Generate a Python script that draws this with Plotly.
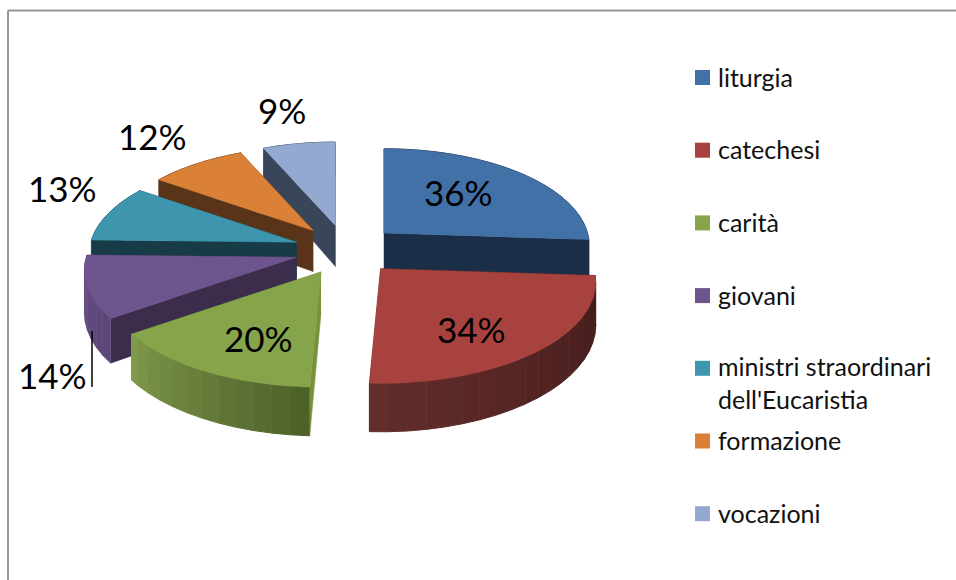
import numpy as np
import plotly.graph_objects as go

categories = ['liturgia', 'catechesi', 'carità', 'giovani',
              "ministri straordinari<br>dell'Eucaristia", 'formazione', 'vocazioni']
values = [36, 34, 20, 14, 13, 12, 9]

top_colors = ['#4271A8', '#A8423F', '#86A44A', '#6E548D', '#3D96AE', '#DA8137', '#93A9CF']
face_colors = ['#1A2F47', '#451D1B', '#76933C', '#3D2D4D', '#173B47', '#5A3418', '#394558']
rim_start = ['#1A2F47', '#431C1A', '#4E6129', '#5C4679', '#173B47', '#5A3418', '#394558']
rim_end = ['#1A2F47', '#622D2B', '#80994A', '#6B5188', '#173B47', '#5A3418', '#394558']

# back slices get painted first
draw_order = [6, 5, 0, 4, 3, 2, 1]

# label centres, in pixels
label_x = [458, 471, 258, 52, 62, 152, 282]
label_y = [192, 329, 338, 375, 188, 136, 110]

CX, CY = 346, 250       # pie centre
EX, EY = 52, 25         # explosion
RX, RY = 208, 97        # wedge radii
PERSP = 0.13            # front of the pie is closer to the viewer
DEPTH = 41


def rgb(c):
    return np.array([int(c[i:i + 2], 16) for i in (1, 3, 5)])


def project(theta, ax, ay):
    u, v = np.sin(theta), -np.cos(theta)
    # slices pulled towards the viewer come out a little larger
    s = 1 / (1 - PERSP * (v + (ay - CY) / 100))
    return ax + RX * u * s, ay + RY * v * s, DEPTH * s


def polygon(xs, ys, color, width=0.5):
    return go.Scatter(x=list(xs), y=list(ys), mode='lines', fill='toself', fillcolor=color,
                      line=dict(color=color, width=width), hoverinfo='skip', showlegend=False)


fig = go.Figure()

edges = np.cumsum([0] + values) / sum(values) * 2 * np.pi

for i in draw_order:
    t0, t1 = edges[i], edges[i + 1]
    mid = (t0 + t1) / 2
    ax, ay = CX + EX * np.sin(mid), CY - EY * np.cos(mid)
    arc = np.linspace(t0, t1, max(int((t1 - t0) * 40), 8))
    x, y, d = project(arc, ax, ay)

    # cut faces
    for k in (0, -1):
        fig.add_trace(polygon([ax, x[k], x[k], ax], [ay, y[k], y[k] + d[k], ay + DEPTH], face_colors[i]))

    # outer rim, shaded in bands
    c0, c1 = rgb(rim_start[i]), rgb(rim_end[i])
    band_edges = list(range(0, len(arc) - 1, 3)) + [len(arc) - 1]
    for n in range(len(band_edges) - 1):
        a, b = band_edges[n], band_edges[n + 1] + 1
        c = c0 + (c1 - c0) * n / max(len(band_edges) - 2, 1)
        color = 'rgb(%d,%d,%d)' % tuple(c)
        fig.add_trace(polygon(np.r_[x[a:b], x[a:b][::-1]], np.r_[y[a:b], (y + d)[a:b][::-1]], color, width=1))

    # top
    fig.add_trace(polygon(np.r_[ax, x, ax], np.r_[ay, y, ay], top_colors[i]))

# leader line of the 14% label
fig.add_trace(go.Scatter(x=[92, 92], y=[331, 387], mode='lines', line=dict(color='black', width=1.5),
                         hoverinfo='skip', showlegend=False))

# legend
legend_y = [77.5 + 72.7 * i for i in range(len(categories))]
fig.add_trace(go.Scatter(x=[702.5] * len(categories), y=legend_y, mode='markers',
                         marker=dict(symbol='square', size=15, color=top_colors),
                         hoverinfo='skip', showlegend=False))

annotations = []
for i, name in enumerate(categories):
    wrapped = '<br>' in name
    annotations.append(dict(x=715.5, y=legend_y[i] - 1, text=name, xanchor='left',
                            yanchor='top' if wrapped else 'middle', yshift=18 if wrapped else 0,
                            align='left', showarrow=False,
                            font=dict(family='Lato', size=25, color='#111111')))
    annotations.append(dict(x=label_x[i], y=label_y[i], text='%d%%' % values[i], showarrow=False,
                            font=dict(family='Lato', size=35, color='black')))

shapes = [
    dict(type='line', x0=8, x1=8, y0=10.5, y1=580, line=dict(color='#969696', width=2)),
    dict(type='line', x0=8, x1=956, y0=10.5, y1=10.5, line=dict(color='#969696', width=2)),
]

fig.update_layout(width=956, height=580, margin=dict(l=0, r=0, t=0, b=0),
                  paper_bgcolor='white', plot_bgcolor='white',
                  xaxis=dict(range=[0, 956], visible=False, fixedrange=True),
                  yaxis=dict(range=[580, 0], visible=False, fixedrange=True),
                  annotations=annotations, shapes=shapes, showlegend=False)

fig.write_html("out.html", config=dict(displayModeBar=False),
               post_script="document.body.style.margin='0';")
